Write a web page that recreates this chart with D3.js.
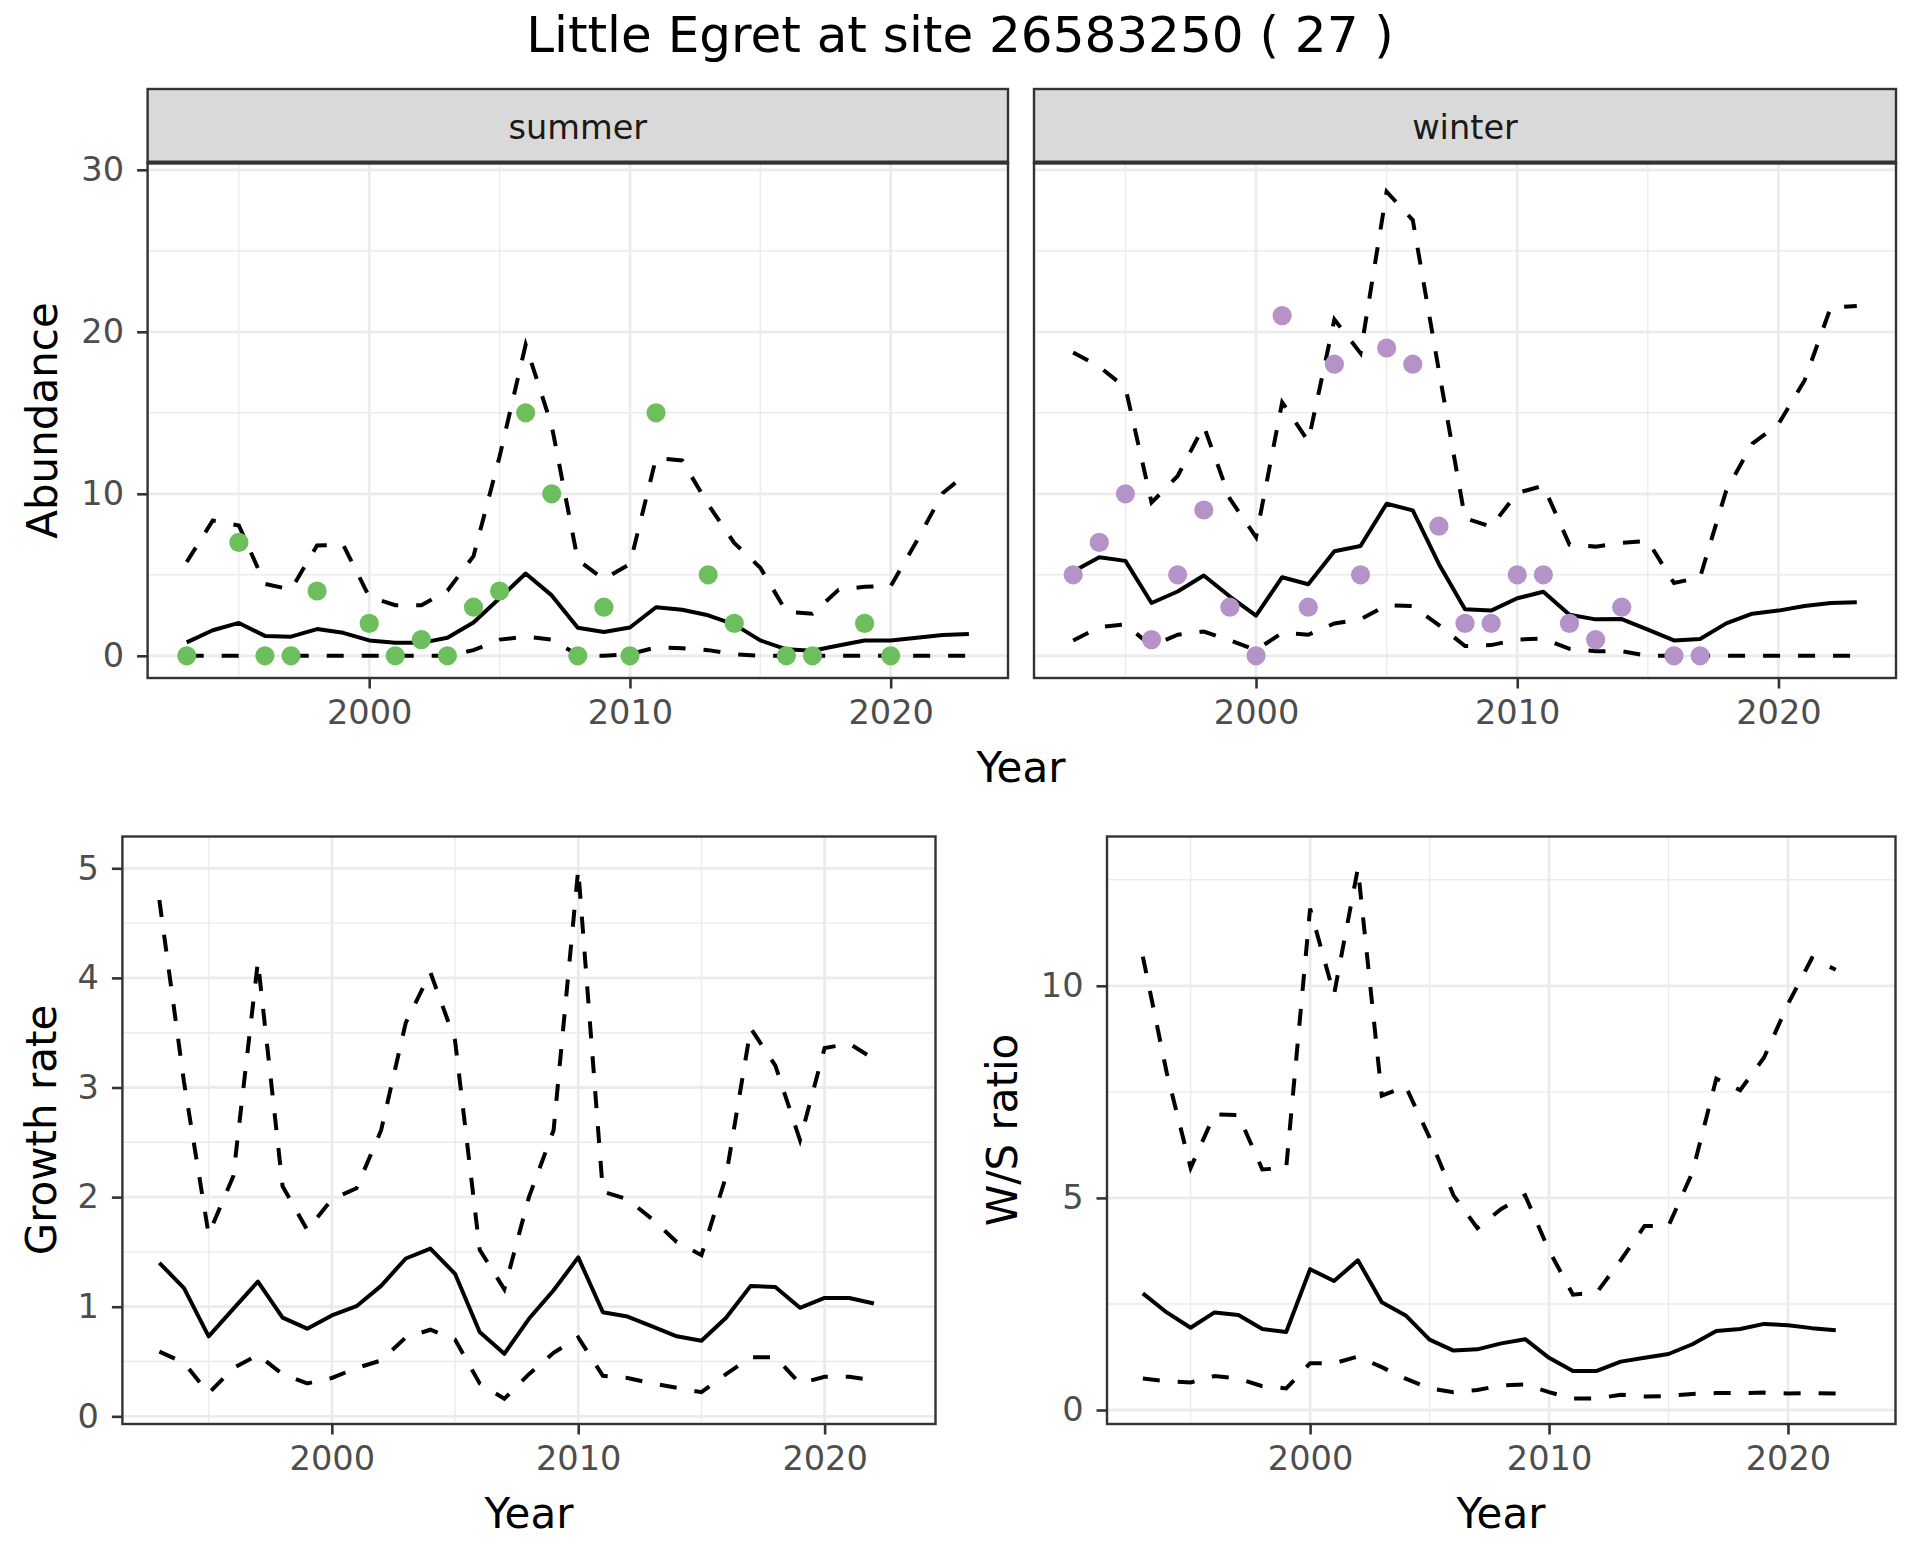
<!DOCTYPE html>
<html>
<head>
<meta charset="utf-8">
<script src="https://cdn.jsdelivr.net/npm/d3@7"></script>
<style>
  body { margin: 0; background: #fff; }
  svg { display: block; font-family: "DejaVu Sans", sans-serif; }
</style>
</head>
<body>
<svg id="chart" width="1920" height="1560"></svg>
<script>
// years of the survey
var years = [1993, 1994, 1995, 1996, 1997, 1998, 1999, 2000, 2001, 2002, 2003, 2004, 2005, 2006, 2007,
             2008, 2009, 2010, 2011, 2012, 2013, 2014, 2015, 2016, 2017, 2018, 2019, 2020, 2021, 2022, 2023];

// summer counts (null = not counted) and fitted abundance with limits
var summerCounts = [0, null, 7, 0, 0, 4, null, 2, 0, 1, 0, 3, 4, 15, 10,
                    0, 3, 0, 15, null, 5, 2, null, 0, 0, null, 2, 0, null, null, null];
var summerFit = [0.83, 1.58, 2.03, 1.23, 1.18, 1.65, 1.42, 0.95, 0.8, 0.8, 1.11, 2.06, 3.55, 5.08, 3.73,
                 1.73, 1.47, 1.75, 3.0, 2.84, 2.5, 1.94, 0.95, 0.4, 0.31, 0.64, 0.95, 0.95, 1.11, 1.28, 1.35];
var summerLo = [0, 0, 0, 0, 0, 0, 0, 0, 0, 0, 0, 0.35, 1.0, 1.18, 1.0,
                0.05, 0, 0.1, 0.52, 0.47, 0.35, 0.1, 0, 0, 0, 0, 0, 0, 0, 0, 0];
var summerHi = [5.79, 8.35, 8.04, 4.44, 4.09, 6.81, 6.86, 3.64, 3.12, 3.12, 4.02, 6.15, 12.3, 19.2, 14.2,
                5.91, 4.73, 5.67, 12.2, 12.06, 9.34, 6.97, 5.44, 2.72, 2.6, 4.07, 4.26, 4.3, 7.09, 10.05, 11.35];

// winter counts and fitted abundance with limits
var winterCounts = [5, 7, 10, 1, 5, 9, 3, 0, 21, 3, 18, 5, 19, 18, 8,
                    2, 2, 5, 5, 2, 1, 3, null, 0, 0, null, null, null, null, null, null];
var winterFit = [5.2, 6.08, 5.86, 3.26, 3.97, 4.96, 3.66, 2.48, 4.85, 4.42, 6.45, 6.78, 9.39, 8.98, 5.67,
                 2.88, 2.79, 3.55, 3.95, 2.53, 2.25, 2.27, 1.61, 0.95, 1.04, 2.0, 2.6, 2.79, 3.07, 3.26, 3.31];
var winterLo = [0.95, 1.77, 1.94, 0.6, 1.3, 1.5, 0.95, 0.35, 1.42, 1.3, 2.0, 2.25, 3.12, 3.07, 1.89,
                0.6, 0.66, 1.0, 1.06, 0.43, 0.28, 0.28, 0, 0, 0, 0, 0, 0, 0, 0, 0];
var winterHi = [18.72, 17.85, 16.55, 9.46, 11.1, 14.18, 9.69, 7.33, 15.65, 13.24, 20.76, 18.68, 28.65, 26.9, 17.6,
                8.5, 7.97, 10.05, 10.5, 6.86, 6.74, 6.97, 7.09, 4.49, 4.85, 10.2, 13.1, 14.3, 17.0, 21.5, 21.6];

// growth rate 1993-2022
var growthFit = [1.40, 1.17, 0.73, 0.98, 1.23, 0.90, 0.80, 0.92, 1.005, 1.19, 1.44, 1.53, 1.30, 0.77, 0.57,
                 0.89, 1.15, 1.45, 0.95, 0.91, 0.82, 0.73, 0.69, 0.90, 1.19, 1.18, 0.99, 1.08, 1.08, 1.03];
var growthLo = [0.59, 0.49, 0.21, 0.44, 0.56, 0.385, 0.30, 0.35, 0.44, 0.51, 0.72, 0.79, 0.70, 0.30, 0.16,
                0.385, 0.58, 0.72, 0.37, 0.35, 0.30, 0.26, 0.22, 0.385, 0.54, 0.54, 0.30, 0.36, 0.36, 0.33];
var growthHi = [4.71, 3.05, 1.66, 2.19, 4.15, 2.10, 1.70, 1.98, 2.08, 2.61, 3.59, 4.05, 3.43, 1.52, 1.16,
                2.0, 2.61, 4.99, 2.05, 1.98, 1.80, 1.59, 1.47, 2.19, 3.54, 3.20, 2.52, 3.36, 3.40, 3.26];

// winter / summer ratio 1993-2022
var ratioFit = [2.75, 2.30, 1.94, 2.30, 2.24, 1.91, 1.84, 3.32, 3.04, 3.53, 2.54, 2.23, 1.66, 1.40, 1.43,
                1.57, 1.67, 1.23, 0.92, 0.92, 1.14, 1.23, 1.32, 1.55, 1.86, 1.91, 2.03, 2.00, 1.93, 1.88];
var ratioLo = [0.74, 0.68, 0.65, 0.80, 0.74, 0.56, 0.51, 1.10, 1.10, 1.26, 1.01, 0.74, 0.51, 0.42, 0.47,
               0.58, 0.60, 0.42, 0.27, 0.27, 0.36, 0.32, 0.33, 0.38, 0.40, 0.40, 0.41, 0.39, 0.40, 0.39];
var ratioHi = [10.69, 7.95, 5.71, 6.97, 6.95, 5.67, 5.71, 11.82, 9.79, 12.77, 7.41, 7.63, 6.42, 5.06, 4.29,
               4.74, 5.06, 3.76, 2.72, 2.77, 3.53, 4.34, 4.34, 5.6, 7.81, 7.54, 8.31, 9.57, 10.65, 10.38];

var xTicks = [2000, 2010, 2020],
    xMinor = [1995, 2005, 2015];

var svg = d3.select("#chart");
svg.append("rect").attr("width", 1920).attr("height", 1560).attr("fill", "#fff");

var FS_TICK = 33.6, FS_TITLE = 42;

function series(vals) {
    return vals.map(function(v, i) { return {year: years[i], v: v}; });
}

function drawPanel(p) {
    var x = d3.scaleLinear().domain([1991.5, 2024.5]).range([p.x0, p.x1]);
    var y = d3.scaleLinear().domain(p.yDomain).range([p.y1, p.y0]);
    var g = svg.append("g");

    g.append("rect")
        .attr("x", p.x0).attr("y", p.y0)
        .attr("width", p.x1 - p.x0).attr("height", p.y1 - p.y0)
        .attr("fill", "#fff");

    // Grid: minor first, then major.
    g.selectAll("line.xminor").data(xMinor).enter().append("line")
        .attr("x1", d => x(d)).attr("x2", d => x(d))
        .attr("y1", p.y0).attr("y2", p.y1)
        .attr("stroke", "#ebebeb").attr("stroke-width", 1.4);
    g.selectAll("line.yminor").data(p.yMinor).enter().append("line")
        .attr("y1", d => y(d)).attr("y2", d => y(d))
        .attr("x1", p.x0).attr("x2", p.x1)
        .attr("stroke", "#ebebeb").attr("stroke-width", 1.4);
    g.selectAll("line.xmajor").data(xTicks).enter().append("line")
        .attr("x1", d => x(d)).attr("x2", d => x(d))
        .attr("y1", p.y0).attr("y2", p.y1)
        .attr("stroke", "#ebebeb").attr("stroke-width", 2.8);
    g.selectAll("line.ymajor").data(p.yTicks).enter().append("line")
        .attr("y1", d => y(d)).attr("y2", d => y(d))
        .attr("x1", p.x0).attr("x2", p.x1)
        .attr("stroke", "#ebebeb").attr("stroke-width", 2.8);

    var clipId = "clip" + p.id;
    svg.append("clipPath").attr("id", clipId).append("rect")
        .attr("x", p.x0).attr("y", p.y0)
        .attr("width", p.x1 - p.x0).attr("height", p.y1 - p.y0);

    var line = d3.line()
        .defined(d => d.v != null)
        .x(d => x(d.year))
        .y(d => y(d.v));

    var lg = g.append("g").attr("clip-path", "url(#" + clipId + ")");
    [p.lo, p.hi].forEach(function(vals) {
        lg.append("path")
            .attr("d", line(series(vals)))
            .attr("fill", "none").attr("stroke", "#000")
            .attr("stroke-width", 4).attr("stroke-dasharray", "17,18");
    });
    lg.append("path")
        .attr("d", line(series(p.fit)))
        .attr("fill", "none").attr("stroke", "#000")
        .attr("stroke-width", 4).attr("stroke-linejoin", "round");

    if (p.counts) {
        lg.selectAll("circle")
            .data(series(p.counts).filter(d => d.v != null))
            .enter().append("circle")
            .attr("cx", d => x(d.year)).attr("cy", d => y(d.v))
            .attr("r", 9.6).attr("fill", p.colour);
    }

    g.append("rect")
        .attr("x", p.x0).attr("y", p.y0)
        .attr("width", p.x1 - p.x0).attr("height", p.y1 - p.y0)
        .attr("fill", "none").attr("stroke", "#333").attr("stroke-width", 2.4);

    // Axes
    var xa = g.append("g")
        .attr("transform", "translate(0," + p.y1 + ")")
        .call(d3.axisBottom(x).tickValues(xTicks).tickFormat(d3.format("d"))
            .tickSize(10.5).tickPadding(12));
    styleAxis(xa);

    if (p.yAxis) {
        var ya = g.append("g")
            .attr("transform", "translate(" + p.x0 + ",0)")
            .call(d3.axisLeft(y).tickValues(p.yTicks).tickFormat(d3.format("d"))
                .tickSize(10.5).tickPadding(13));
        styleAxis(ya);
    }

    if (p.strip) {
        g.append("rect")
            .attr("x", p.x0).attr("y", p.stripY)
            .attr("width", p.x1 - p.x0).attr("height", p.y0 - p.stripY)
            .attr("fill", "#d9d9d9").attr("stroke", "#333").attr("stroke-width", 2.4);
        // strip and panel borders meet here, so the seam reads heavier
        g.append("line")
            .attr("x1", p.x0).attr("x2", p.x1)
            .attr("y1", p.y0 - 0.5).attr("y2", p.y0 - 0.5)
            .attr("stroke", "#333").attr("stroke-width", 4);
        g.append("text")
            .attr("x", (p.x0 + p.x1) / 2).attr("y", p.y0 - 24.5)
            .attr("text-anchor", "middle")
            .attr("font-size", FS_TICK).attr("fill", "#1a1a1a")
            .text(p.strip);
    }
    return g;
}

function styleAxis(a) {
    a.select(".domain").remove();
    a.selectAll(".tick line").attr("stroke", "#333").attr("stroke-width", 2.6);
    a.selectAll(".tick text")
        .attr("font-size", FS_TICK)
        .attr("font-family", "DejaVu Sans, sans-serif")
        .attr("fill", "#4d4d4d");
}

var topY = {y0: 163, y1: 678, stripY: 89, yDomain: [-1.37, 30.42], yTicks: [0, 10, 20, 30], yMinor: [5, 15, 25]};

drawPanel(Object.assign({id: "s", x0: 147.6, x1: 1008, strip: "summer", yAxis: true,
    counts: summerCounts, fit: summerFit, lo: summerLo, hi: summerHi, colour: "#6dbf5e"}, topY));
drawPanel(Object.assign({id: "w", x0: 1034, x1: 1896, strip: "winter", yAxis: false,
    counts: winterCounts, fit: winterFit, lo: winterLo, hi: winterHi, colour: "#b592c7"}, topY));

drawPanel({id: "g", x0: 122.4, x1: 935.5, y0: 836.5, y1: 1424, yAxis: true,
    yDomain: [-0.07, 5.29], yTicks: [0, 1, 2, 3, 4, 5], yMinor: [0.5, 1.5, 2.5, 3.5, 4.5],
    fit: growthFit, lo: growthLo, hi: growthHi});
drawPanel({id: "r", x0: 1107, x1: 1895.5, y0: 836.5, y1: 1424, yAxis: true,
    yDomain: [-0.33, 13.52], yTicks: [0, 5, 10], yMinor: [2.5, 7.5, 12.5],
    fit: ratioFit, lo: ratioLo, hi: ratioHi});

// Titles
svg.append("text")
    .attr("x", 960).attr("y", 52)
    .attr("text-anchor", "middle").attr("font-size", 50).attr("fill", "#000")
    .text("Little Egret at site 26583250 ( 27 )");

function xTitle(cx, by) {
    svg.append("text").attr("x", cx).attr("y", by)
        .attr("text-anchor", "middle").attr("font-size", FS_TITLE).attr("fill", "#000")
        .text("Year");
}
xTitle(1021, 782);
xTitle(529, 1528);
xTitle(1501, 1528);

function yTitle(bx, cy, label) {
    svg.append("text")
        .attr("transform", "translate(" + bx + "," + cy + ") rotate(-90)")
        .attr("text-anchor", "middle").attr("font-size", FS_TITLE).attr("fill", "#000")
        .text(label);
}
yTitle(57, 420.5, "Abundance");
yTitle(56, 1130, "Growth rate");
yTitle(1017, 1130, "W/S ratio");
</script>
</body>
</html>
